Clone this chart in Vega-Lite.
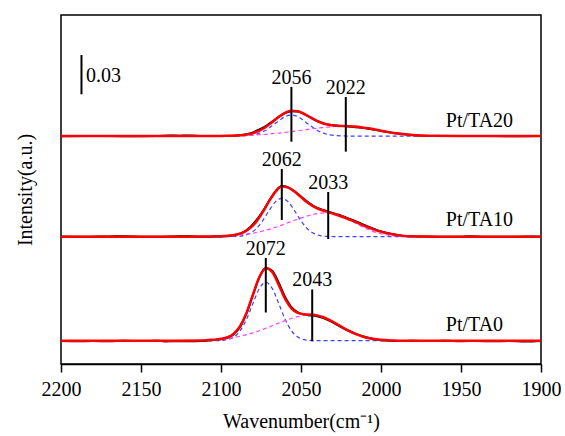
{
  "$schema": "https://vega.github.io/schema/vega-lite/v6.json",
  "width": 480,
  "height": 349,
  "autosize": "none",
  "padding": {"left": 61, "top": 15, "right": 24, "bottom": 72},
  "background": "white",
  "config": {"view": {"stroke": "black", "strokeWidth": 1.5}, "font": "'Liberation Serif', 'Times New Roman', serif"},
  "datasets": {
    "spectra": [
      {"sample":"Pt/TA0","curve":"exp","wavenumber":2200,"intensity":0.0176},{"sample":"Pt/TA0","curve":"exp","wavenumber":2190,"intensity":0.0174},{"sample":"Pt/TA0","curve":"exp","wavenumber":2180,"intensity":0.0175},{"sample":"Pt/TA0","curve":"exp","wavenumber":2170,"intensity":0.0173},{"sample":"Pt/TA0","curve":"exp","wavenumber":2160,"intensity":0.0177},{"sample":"Pt/TA0","curve":"exp","wavenumber":2150,"intensity":0.0175},{"sample":"Pt/TA0","curve":"exp","wavenumber":2140,"intensity":0.0178},{"sample":"Pt/TA0","curve":"exp","wavenumber":2135,"intensity":0.0172},{"sample":"Pt/TA0","curve":"exp","wavenumber":2128,"intensity":0.0174},{"sample":"Pt/TA0","curve":"exp","wavenumber":2120,"intensity":0.0173},{"sample":"Pt/TA0","curve":"exp","wavenumber":2112,"intensity":0.0175},{"sample":"Pt/TA0","curve":"exp","wavenumber":2108,"intensity":0.0180},{"sample":"Pt/TA0","curve":"exp","wavenumber":2104,"intensity":0.0184},{"sample":"Pt/TA0","curve":"exp","wavenumber":2100,"intensity":0.0189},{"sample":"Pt/TA0","curve":"exp","wavenumber":2096,"intensity":0.0200},{"sample":"Pt/TA0","curve":"exp","wavenumber":2092,"intensity":0.0228},{"sample":"Pt/TA0","curve":"exp","wavenumber":2088,"intensity":0.0285},{"sample":"Pt/TA0","curve":"exp","wavenumber":2084,"intensity":0.0388},{"sample":"Pt/TA0","curve":"exp","wavenumber":2080,"intensity":0.0528},{"sample":"Pt/TA0","curve":"exp","wavenumber":2076,"intensity":0.0663},{"sample":"Pt/TA0","curve":"exp","wavenumber":2072,"intensity":0.0732},{"sample":"Pt/TA0","curve":"exp","wavenumber":2068,"intensity":0.0712},{"sample":"Pt/TA0","curve":"exp","wavenumber":2064,"intensity":0.0622},{"sample":"Pt/TA0","curve":"exp","wavenumber":2060,"intensity":0.0513},{"sample":"Pt/TA0","curve":"exp","wavenumber":2056,"intensity":0.0434},{"sample":"Pt/TA0","curve":"exp","wavenumber":2052,"intensity":0.0395},{"sample":"Pt/TA0","curve":"exp","wavenumber":2048,"intensity":0.0377},{"sample":"Pt/TA0","curve":"exp","wavenumber":2044,"intensity":0.0371},{"sample":"Pt/TA0","curve":"exp","wavenumber":2040,"intensity":0.0364},{"sample":"Pt/TA0","curve":"exp","wavenumber":2036,"intensity":0.0350},{"sample":"Pt/TA0","curve":"exp","wavenumber":2032,"intensity":0.0329},{"sample":"Pt/TA0","curve":"exp","wavenumber":2028,"intensity":0.0303},{"sample":"Pt/TA0","curve":"exp","wavenumber":2024,"intensity":0.0276},{"sample":"Pt/TA0","curve":"exp","wavenumber":2020,"intensity":0.0252},{"sample":"Pt/TA0","curve":"exp","wavenumber":2016,"intensity":0.0232},{"sample":"Pt/TA0","curve":"exp","wavenumber":2012,"intensity":0.0214},{"sample":"Pt/TA0","curve":"exp","wavenumber":2008,"intensity":0.0200},{"sample":"Pt/TA0","curve":"exp","wavenumber":2004,"intensity":0.0189},{"sample":"Pt/TA0","curve":"exp","wavenumber":2000,"intensity":0.0182},{"sample":"Pt/TA0","curve":"exp","wavenumber":1996,"intensity":0.0179},{"sample":"Pt/TA0","curve":"exp","wavenumber":1990,"intensity":0.0176},{"sample":"Pt/TA0","curve":"exp","wavenumber":1980,"intensity":0.0177},{"sample":"Pt/TA0","curve":"exp","wavenumber":1970,"intensity":0.0175},{"sample":"Pt/TA0","curve":"exp","wavenumber":1960,"intensity":0.0177},{"sample":"Pt/TA0","curve":"exp","wavenumber":1950,"intensity":0.0174},{"sample":"Pt/TA0","curve":"exp","wavenumber":1940,"intensity":0.0176},{"sample":"Pt/TA0","curve":"exp","wavenumber":1930,"intensity":0.0173},{"sample":"Pt/TA0","curve":"exp","wavenumber":1920,"intensity":0.0175},{"sample":"Pt/TA0","curve":"exp","wavenumber":1910,"intensity":0.0172},{"sample":"Pt/TA0","curve":"exp","wavenumber":1900,"intensity":0.0176},

      {"sample":"Pt/TA0","curve":"peak1","wavenumber":2108,"intensity":0.0178},{"sample":"Pt/TA0","curve":"peak1","wavenumber":2104,"intensity":0.0178},{"sample":"Pt/TA0","curve":"peak1","wavenumber":2100,"intensity":0.0180},{"sample":"Pt/TA0","curve":"peak1","wavenumber":2096,"intensity":0.0186},{"sample":"Pt/TA0","curve":"peak1","wavenumber":2092,"intensity":0.0206},{"sample":"Pt/TA0","curve":"peak1","wavenumber":2088,"intensity":0.0254},{"sample":"Pt/TA0","curve":"peak1","wavenumber":2084,"intensity":0.0343},{"sample":"Pt/TA0","curve":"peak1","wavenumber":2080,"intensity":0.0464},{"sample":"Pt/TA0","curve":"peak1","wavenumber":2076,"intensity":0.0577},{"sample":"Pt/TA0","curve":"peak1","wavenumber":2072,"intensity":0.0624},{"sample":"Pt/TA0","curve":"peak1","wavenumber":2068,"intensity":0.0577},{"sample":"Pt/TA0","curve":"peak1","wavenumber":2064,"intensity":0.0464},{"sample":"Pt/TA0","curve":"peak1","wavenumber":2060,"intensity":0.0343},{"sample":"Pt/TA0","curve":"peak1","wavenumber":2056,"intensity":0.0254},{"sample":"Pt/TA0","curve":"peak1","wavenumber":2052,"intensity":0.0206},{"sample":"Pt/TA0","curve":"peak1","wavenumber":2048,"intensity":0.0186},{"sample":"Pt/TA0","curve":"peak1","wavenumber":2044,"intensity":0.0180},{"sample":"Pt/TA0","curve":"peak1","wavenumber":2040,"intensity":0.0178},{"sample":"Pt/TA0","curve":"peak1","wavenumber":2000,"intensity":0.0178},{"sample":"Pt/TA0","curve":"peak1","wavenumber":1972,"intensity":0.0178},

      {"sample":"Pt/TA0","curve":"peak2","wavenumber":2108,"intensity":0.0183},{"sample":"Pt/TA0","curve":"peak2","wavenumber":2104,"intensity":0.0186},{"sample":"Pt/TA0","curve":"peak2","wavenumber":2100,"intensity":0.0190},{"sample":"Pt/TA0","curve":"peak2","wavenumber":2096,"intensity":0.0195},{"sample":"Pt/TA0","curve":"peak2","wavenumber":2092,"intensity":0.0202},{"sample":"Pt/TA0","curve":"peak2","wavenumber":2088,"intensity":0.0212},{"sample":"Pt/TA0","curve":"peak2","wavenumber":2084,"intensity":0.0224},{"sample":"Pt/TA0","curve":"peak2","wavenumber":2080,"intensity":0.0238},{"sample":"Pt/TA0","curve":"peak2","wavenumber":2076,"intensity":0.0254},{"sample":"Pt/TA0","curve":"peak2","wavenumber":2072,"intensity":0.0273},{"sample":"Pt/TA0","curve":"peak2","wavenumber":2068,"intensity":0.0292},{"sample":"Pt/TA0","curve":"peak2","wavenumber":2064,"intensity":0.0312},{"sample":"Pt/TA0","curve":"peak2","wavenumber":2060,"intensity":0.0331},{"sample":"Pt/TA0","curve":"peak2","wavenumber":2056,"intensity":0.0347},{"sample":"Pt/TA0","curve":"peak2","wavenumber":2052,"intensity":0.0361},{"sample":"Pt/TA0","curve":"peak2","wavenumber":2048,"intensity":0.0370},{"sample":"Pt/TA0","curve":"peak2","wavenumber":2044,"intensity":0.0374},{"sample":"Pt/TA0","curve":"peak2","wavenumber":2040,"intensity":0.0371},{"sample":"Pt/TA0","curve":"peak2","wavenumber":2036,"intensity":0.0357},{"sample":"Pt/TA0","curve":"peak2","wavenumber":2032,"intensity":0.0335},{"sample":"Pt/TA0","curve":"peak2","wavenumber":2028,"intensity":0.0308},{"sample":"Pt/TA0","curve":"peak2","wavenumber":2024,"intensity":0.0279},{"sample":"Pt/TA0","curve":"peak2","wavenumber":2020,"intensity":0.0252},{"sample":"Pt/TA0","curve":"peak2","wavenumber":2016,"intensity":0.0230},{"sample":"Pt/TA0","curve":"peak2","wavenumber":2012,"intensity":0.0212},{"sample":"Pt/TA0","curve":"peak2","wavenumber":2008,"intensity":0.0199},{"sample":"Pt/TA0","curve":"peak2","wavenumber":2004,"intensity":0.0190},{"sample":"Pt/TA0","curve":"peak2","wavenumber":2000,"intensity":0.0185},{"sample":"Pt/TA0","curve":"peak2","wavenumber":1996,"intensity":0.0181},{"sample":"Pt/TA0","curve":"peak2","wavenumber":1992,"intensity":0.0179},{"sample":"Pt/TA0","curve":"peak2","wavenumber":1988,"intensity":0.0178},{"sample":"Pt/TA0","curve":"peak2","wavenumber":1972,"intensity":0.0178},

      {"sample":"Pt/TA0","curve":"fit","wavenumber":2200,"intensity":0.0178},{"sample":"Pt/TA0","curve":"fit","wavenumber":2160,"intensity":0.0178},{"sample":"Pt/TA0","curve":"fit","wavenumber":2130,"intensity":0.0178},{"sample":"Pt/TA0","curve":"fit","wavenumber":2112,"intensity":0.0179},{"sample":"Pt/TA0","curve":"fit","wavenumber":2108,"intensity":0.0183},{"sample":"Pt/TA0","curve":"fit","wavenumber":2104,"intensity":0.0186},{"sample":"Pt/TA0","curve":"fit","wavenumber":2100,"intensity":0.0192},{"sample":"Pt/TA0","curve":"fit","wavenumber":2096,"intensity":0.0204},{"sample":"Pt/TA0","curve":"fit","wavenumber":2092,"intensity":0.0231},{"sample":"Pt/TA0","curve":"fit","wavenumber":2088,"intensity":0.0290},{"sample":"Pt/TA0","curve":"fit","wavenumber":2084,"intensity":0.0392},{"sample":"Pt/TA0","curve":"fit","wavenumber":2080,"intensity":0.0532},{"sample":"Pt/TA0","curve":"fit","wavenumber":2076,"intensity":0.0664},{"sample":"Pt/TA0","curve":"fit","wavenumber":2072,"intensity":0.0731},{"sample":"Pt/TA0","curve":"fit","wavenumber":2068,"intensity":0.0702},{"sample":"Pt/TA0","curve":"fit","wavenumber":2064,"intensity":0.0606},{"sample":"Pt/TA0","curve":"fit","wavenumber":2060,"intensity":0.0499},{"sample":"Pt/TA0","curve":"fit","wavenumber":2056,"intensity":0.0425},{"sample":"Pt/TA0","curve":"fit","wavenumber":2052,"intensity":0.0390},{"sample":"Pt/TA0","curve":"fit","wavenumber":2048,"intensity":0.0379},{"sample":"Pt/TA0","curve":"fit","wavenumber":2044,"intensity":0.0376},{"sample":"Pt/TA0","curve":"fit","wavenumber":2040,"intensity":0.0371},{"sample":"Pt/TA0","curve":"fit","wavenumber":2036,"intensity":0.0357},{"sample":"Pt/TA0","curve":"fit","wavenumber":2032,"intensity":0.0335},{"sample":"Pt/TA0","curve":"fit","wavenumber":2028,"intensity":0.0308},{"sample":"Pt/TA0","curve":"fit","wavenumber":2024,"intensity":0.0279},{"sample":"Pt/TA0","curve":"fit","wavenumber":2020,"intensity":0.0252},{"sample":"Pt/TA0","curve":"fit","wavenumber":2016,"intensity":0.0230},{"sample":"Pt/TA0","curve":"fit","wavenumber":2012,"intensity":0.0212},{"sample":"Pt/TA0","curve":"fit","wavenumber":2008,"intensity":0.0199},{"sample":"Pt/TA0","curve":"fit","wavenumber":2004,"intensity":0.0190},{"sample":"Pt/TA0","curve":"fit","wavenumber":2000,"intensity":0.0185},{"sample":"Pt/TA0","curve":"fit","wavenumber":1996,"intensity":0.0181},{"sample":"Pt/TA0","curve":"fit","wavenumber":1992,"intensity":0.0179},{"sample":"Pt/TA0","curve":"fit","wavenumber":1988,"intensity":0.0178},{"sample":"Pt/TA0","curve":"fit","wavenumber":1960,"intensity":0.0178},{"sample":"Pt/TA0","curve":"fit","wavenumber":1930,"intensity":0.0178},{"sample":"Pt/TA0","curve":"fit","wavenumber":1900,"intensity":0.0178},

      {"sample":"Pt/TA10","curve":"exp","wavenumber":2200,"intensity":0.0973},{"sample":"Pt/TA10","curve":"exp","wavenumber":2185,"intensity":0.0971},{"sample":"Pt/TA10","curve":"exp","wavenumber":2170,"intensity":0.0974},{"sample":"Pt/TA10","curve":"exp","wavenumber":2160,"intensity":0.0975},{"sample":"Pt/TA10","curve":"exp","wavenumber":2150,"intensity":0.0972},{"sample":"Pt/TA10","curve":"exp","wavenumber":2140,"intensity":0.0971},{"sample":"Pt/TA10","curve":"exp","wavenumber":2130,"intensity":0.0973},{"sample":"Pt/TA10","curve":"exp","wavenumber":2120,"intensity":0.0976},{"sample":"Pt/TA10","curve":"exp","wavenumber":2112,"intensity":0.0972},{"sample":"Pt/TA10","curve":"exp","wavenumber":2106,"intensity":0.0972},{"sample":"Pt/TA10","curve":"exp","wavenumber":2102,"intensity":0.0973},{"sample":"Pt/TA10","curve":"exp","wavenumber":2098,"intensity":0.0975},{"sample":"Pt/TA10","curve":"exp","wavenumber":2094,"intensity":0.0979},{"sample":"Pt/TA10","curve":"exp","wavenumber":2090,"intensity":0.0988},{"sample":"Pt/TA10","curve":"exp","wavenumber":2086,"intensity":0.1006},{"sample":"Pt/TA10","curve":"exp","wavenumber":2082,"intensity":0.1042},{"sample":"Pt/TA10","curve":"exp","wavenumber":2078,"intensity":0.1096},{"sample":"Pt/TA10","curve":"exp","wavenumber":2074,"intensity":0.1164},{"sample":"Pt/TA10","curve":"exp","wavenumber":2070,"intensity":0.1244},{"sample":"Pt/TA10","curve":"exp","wavenumber":2066,"intensity":0.1318},{"sample":"Pt/TA10","curve":"exp","wavenumber":2062,"intensity":0.1358},{"sample":"Pt/TA10","curve":"exp","wavenumber":2058,"intensity":0.1348},{"sample":"Pt/TA10","curve":"exp","wavenumber":2054,"intensity":0.1318},{"sample":"Pt/TA10","curve":"exp","wavenumber":2050,"intensity":0.1278},{"sample":"Pt/TA10","curve":"exp","wavenumber":2046,"intensity":0.1238},{"sample":"Pt/TA10","curve":"exp","wavenumber":2042,"intensity":0.1206},{"sample":"Pt/TA10","curve":"exp","wavenumber":2038,"intensity":0.1183},{"sample":"Pt/TA10","curve":"exp","wavenumber":2034,"intensity":0.1167},{"sample":"Pt/TA10","curve":"exp","wavenumber":2030,"intensity":0.1152},{"sample":"Pt/TA10","curve":"exp","wavenumber":2026,"intensity":0.1137},{"sample":"Pt/TA10","curve":"exp","wavenumber":2022,"intensity":0.1119},{"sample":"Pt/TA10","curve":"exp","wavenumber":2018,"intensity":0.1100},{"sample":"Pt/TA10","curve":"exp","wavenumber":2014,"intensity":0.1080},{"sample":"Pt/TA10","curve":"exp","wavenumber":2010,"intensity":0.1059},{"sample":"Pt/TA10","curve":"exp","wavenumber":2006,"intensity":0.1038},{"sample":"Pt/TA10","curve":"exp","wavenumber":2002,"intensity":0.1020},{"sample":"Pt/TA10","curve":"exp","wavenumber":1998,"intensity":0.1006},{"sample":"Pt/TA10","curve":"exp","wavenumber":1994,"intensity":0.0994},{"sample":"Pt/TA10","curve":"exp","wavenumber":1988,"intensity":0.0980},{"sample":"Pt/TA10","curve":"exp","wavenumber":1980,"intensity":0.0973},{"sample":"Pt/TA10","curve":"exp","wavenumber":1970,"intensity":0.0973},{"sample":"Pt/TA10","curve":"exp","wavenumber":1960,"intensity":0.0971},{"sample":"Pt/TA10","curve":"exp","wavenumber":1950,"intensity":0.0972},{"sample":"Pt/TA10","curve":"exp","wavenumber":1945,"intensity":0.0975},{"sample":"Pt/TA10","curve":"exp","wavenumber":1935,"intensity":0.0972},{"sample":"Pt/TA10","curve":"exp","wavenumber":1920,"intensity":0.0971},{"sample":"Pt/TA10","curve":"exp","wavenumber":1910,"intensity":0.0973},{"sample":"Pt/TA10","curve":"exp","wavenumber":1900,"intensity":0.0972},

      {"sample":"Pt/TA10","curve":"peak1","wavenumber":2106,"intensity":0.0972},{"sample":"Pt/TA10","curve":"peak1","wavenumber":2094,"intensity":0.0973},{"sample":"Pt/TA10","curve":"peak1","wavenumber":2090,"intensity":0.0974},{"sample":"Pt/TA10","curve":"peak1","wavenumber":2086,"intensity":0.0980},{"sample":"Pt/TA10","curve":"peak1","wavenumber":2082,"intensity":0.0997},{"sample":"Pt/TA10","curve":"peak1","wavenumber":2078,"intensity":0.1032},{"sample":"Pt/TA10","curve":"peak1","wavenumber":2074,"intensity":0.1093},{"sample":"Pt/TA10","curve":"peak1","wavenumber":2070,"intensity":0.1170},{"sample":"Pt/TA10","curve":"peak1","wavenumber":2066,"intensity":0.1238},{"sample":"Pt/TA10","curve":"peak1","wavenumber":2062,"intensity":0.1265},{"sample":"Pt/TA10","curve":"peak1","wavenumber":2058,"intensity":0.1238},{"sample":"Pt/TA10","curve":"peak1","wavenumber":2054,"intensity":0.1170},{"sample":"Pt/TA10","curve":"peak1","wavenumber":2050,"intensity":0.1093},{"sample":"Pt/TA10","curve":"peak1","wavenumber":2046,"intensity":0.1032},{"sample":"Pt/TA10","curve":"peak1","wavenumber":2042,"intensity":0.0997},{"sample":"Pt/TA10","curve":"peak1","wavenumber":2038,"intensity":0.0980},{"sample":"Pt/TA10","curve":"peak1","wavenumber":2034,"intensity":0.0974},{"sample":"Pt/TA10","curve":"peak1","wavenumber":2030,"intensity":0.0973},{"sample":"Pt/TA10","curve":"peak1","wavenumber":2026,"intensity":0.0972},{"sample":"Pt/TA10","curve":"peak1","wavenumber":1970,"intensity":0.0972},

      {"sample":"Pt/TA10","curve":"peak2","wavenumber":2106,"intensity":0.0974},{"sample":"Pt/TA10","curve":"peak2","wavenumber":2102,"intensity":0.0975},{"sample":"Pt/TA10","curve":"peak2","wavenumber":2098,"intensity":0.0977},{"sample":"Pt/TA10","curve":"peak2","wavenumber":2094,"intensity":0.0979},{"sample":"Pt/TA10","curve":"peak2","wavenumber":2090,"intensity":0.0983},{"sample":"Pt/TA10","curve":"peak2","wavenumber":2086,"intensity":0.0988},{"sample":"Pt/TA10","curve":"peak2","wavenumber":2082,"intensity":0.0995},{"sample":"Pt/TA10","curve":"peak2","wavenumber":2078,"intensity":0.1004},{"sample":"Pt/TA10","curve":"peak2","wavenumber":2074,"intensity":0.1015},{"sample":"Pt/TA10","curve":"peak2","wavenumber":2070,"intensity":0.1028},{"sample":"Pt/TA10","curve":"peak2","wavenumber":2066,"intensity":0.1043},{"sample":"Pt/TA10","curve":"peak2","wavenumber":2062,"intensity":0.1060},{"sample":"Pt/TA10","curve":"peak2","wavenumber":2058,"intensity":0.1079},{"sample":"Pt/TA10","curve":"peak2","wavenumber":2054,"intensity":0.1097},{"sample":"Pt/TA10","curve":"peak2","wavenumber":2050,"intensity":0.1115},{"sample":"Pt/TA10","curve":"peak2","wavenumber":2046,"intensity":0.1130},{"sample":"Pt/TA10","curve":"peak2","wavenumber":2042,"intensity":0.1143},{"sample":"Pt/TA10","curve":"peak2","wavenumber":2038,"intensity":0.1151},{"sample":"Pt/TA10","curve":"peak2","wavenumber":2034,"intensity":0.1155},{"sample":"Pt/TA10","curve":"peak2","wavenumber":2030,"intensity":0.1152},{"sample":"Pt/TA10","curve":"peak2","wavenumber":2026,"intensity":0.1139},{"sample":"Pt/TA10","curve":"peak2","wavenumber":2022,"intensity":0.1117},{"sample":"Pt/TA10","curve":"peak2","wavenumber":2018,"intensity":0.1090},{"sample":"Pt/TA10","curve":"peak2","wavenumber":2014,"intensity":0.1063},{"sample":"Pt/TA10","curve":"peak2","wavenumber":2010,"intensity":0.1037},{"sample":"Pt/TA10","curve":"peak2","wavenumber":2006,"intensity":0.1016},{"sample":"Pt/TA10","curve":"peak2","wavenumber":2002,"intensity":0.1000},{"sample":"Pt/TA10","curve":"peak2","wavenumber":1998,"intensity":0.0989},{"sample":"Pt/TA10","curve":"peak2","wavenumber":1994,"intensity":0.0981},{"sample":"Pt/TA10","curve":"peak2","wavenumber":1990,"intensity":0.0977},{"sample":"Pt/TA10","curve":"peak2","wavenumber":1986,"intensity":0.0974},{"sample":"Pt/TA10","curve":"peak2","wavenumber":1982,"intensity":0.0973},{"sample":"Pt/TA10","curve":"peak2","wavenumber":1978,"intensity":0.0972},{"sample":"Pt/TA10","curve":"peak2","wavenumber":1970,"intensity":0.0972},

      {"sample":"Pt/TA10","curve":"fit","wavenumber":2200,"intensity":0.0972},{"sample":"Pt/TA10","curve":"fit","wavenumber":2150,"intensity":0.0972},{"sample":"Pt/TA10","curve":"fit","wavenumber":2120,"intensity":0.0972},{"sample":"Pt/TA10","curve":"fit","wavenumber":2110,"intensity":0.0973},{"sample":"Pt/TA10","curve":"fit","wavenumber":2106,"intensity":0.0974},{"sample":"Pt/TA10","curve":"fit","wavenumber":2102,"intensity":0.0975},{"sample":"Pt/TA10","curve":"fit","wavenumber":2098,"intensity":0.0977},{"sample":"Pt/TA10","curve":"fit","wavenumber":2094,"intensity":0.0981},{"sample":"Pt/TA10","curve":"fit","wavenumber":2090,"intensity":0.0989},{"sample":"Pt/TA10","curve":"fit","wavenumber":2086,"intensity":0.1004},{"sample":"Pt/TA10","curve":"fit","wavenumber":2082,"intensity":0.1035},{"sample":"Pt/TA10","curve":"fit","wavenumber":2078,"intensity":0.1085},{"sample":"Pt/TA10","curve":"fit","wavenumber":2074,"intensity":0.1157},{"sample":"Pt/TA10","curve":"fit","wavenumber":2070,"intensity":0.1241},{"sample":"Pt/TA10","curve":"fit","wavenumber":2066,"intensity":0.1314},{"sample":"Pt/TA10","curve":"fit","wavenumber":2062,"intensity":0.1354},{"sample":"Pt/TA10","curve":"fit","wavenumber":2058,"intensity":0.1346},{"sample":"Pt/TA10","curve":"fit","wavenumber":2054,"intensity":0.1316},{"sample":"Pt/TA10","curve":"fit","wavenumber":2050,"intensity":0.1274},{"sample":"Pt/TA10","curve":"fit","wavenumber":2046,"intensity":0.1232},{"sample":"Pt/TA10","curve":"fit","wavenumber":2042,"intensity":0.1201},{"sample":"Pt/TA10","curve":"fit","wavenumber":2038,"intensity":0.1178},{"sample":"Pt/TA10","curve":"fit","wavenumber":2034,"intensity":0.1163},{"sample":"Pt/TA10","curve":"fit","wavenumber":2030,"intensity":0.1148},{"sample":"Pt/TA10","curve":"fit","wavenumber":2026,"intensity":0.1132},{"sample":"Pt/TA10","curve":"fit","wavenumber":2022,"intensity":0.1113},{"sample":"Pt/TA10","curve":"fit","wavenumber":2018,"intensity":0.1094},{"sample":"Pt/TA10","curve":"fit","wavenumber":2014,"intensity":0.1074},{"sample":"Pt/TA10","curve":"fit","wavenumber":2010,"intensity":0.1053},{"sample":"Pt/TA10","curve":"fit","wavenumber":2006,"intensity":0.1033},{"sample":"Pt/TA10","curve":"fit","wavenumber":2002,"intensity":0.1016},{"sample":"Pt/TA10","curve":"fit","wavenumber":1998,"intensity":0.1003},{"sample":"Pt/TA10","curve":"fit","wavenumber":1994,"intensity":0.0992},{"sample":"Pt/TA10","curve":"fit","wavenumber":1990,"intensity":0.0984},{"sample":"Pt/TA10","curve":"fit","wavenumber":1986,"intensity":0.0978},{"sample":"Pt/TA10","curve":"fit","wavenumber":1982,"intensity":0.0975},{"sample":"Pt/TA10","curve":"fit","wavenumber":1978,"intensity":0.0974},{"sample":"Pt/TA10","curve":"fit","wavenumber":1970,"intensity":0.0972},{"sample":"Pt/TA10","curve":"fit","wavenumber":1950,"intensity":0.0972},{"sample":"Pt/TA10","curve":"fit","wavenumber":1900,"intensity":0.0972},

      {"sample":"Pt/TA20","curve":"exp","wavenumber":2200,"intensity":0.1739},{"sample":"Pt/TA20","curve":"exp","wavenumber":2180,"intensity":0.1741},{"sample":"Pt/TA20","curve":"exp","wavenumber":2160,"intensity":0.1739},{"sample":"Pt/TA20","curve":"exp","wavenumber":2140,"intensity":0.1740},{"sample":"Pt/TA20","curve":"exp","wavenumber":2132,"intensity":0.1744},{"sample":"Pt/TA20","curve":"exp","wavenumber":2126,"intensity":0.1743},{"sample":"Pt/TA20","curve":"exp","wavenumber":2120,"intensity":0.1745},{"sample":"Pt/TA20","curve":"exp","wavenumber":2112,"intensity":0.1741},{"sample":"Pt/TA20","curve":"exp","wavenumber":2104,"intensity":0.1740},{"sample":"Pt/TA20","curve":"exp","wavenumber":2100,"intensity":0.1741},{"sample":"Pt/TA20","curve":"exp","wavenumber":2096,"intensity":0.1741},{"sample":"Pt/TA20","curve":"exp","wavenumber":2092,"intensity":0.1742},{"sample":"Pt/TA20","curve":"exp","wavenumber":2088,"intensity":0.1746},{"sample":"Pt/TA20","curve":"exp","wavenumber":2084,"intensity":0.1754},{"sample":"Pt/TA20","curve":"exp","wavenumber":2080,"intensity":0.1768},{"sample":"Pt/TA20","curve":"exp","wavenumber":2076,"intensity":0.1790},{"sample":"Pt/TA20","curve":"exp","wavenumber":2072,"intensity":0.1816},{"sample":"Pt/TA20","curve":"exp","wavenumber":2068,"intensity":0.1850},{"sample":"Pt/TA20","curve":"exp","wavenumber":2064,"intensity":0.1886},{"sample":"Pt/TA20","curve":"exp","wavenumber":2060,"intensity":0.1915},{"sample":"Pt/TA20","curve":"exp","wavenumber":2056,"intensity":0.1930},{"sample":"Pt/TA20","curve":"exp","wavenumber":2052,"intensity":0.1927},{"sample":"Pt/TA20","curve":"exp","wavenumber":2048,"intensity":0.1907},{"sample":"Pt/TA20","curve":"exp","wavenumber":2044,"intensity":0.1880},{"sample":"Pt/TA20","curve":"exp","wavenumber":2040,"intensity":0.1855},{"sample":"Pt/TA20","curve":"exp","wavenumber":2036,"intensity":0.1837},{"sample":"Pt/TA20","curve":"exp","wavenumber":2032,"intensity":0.1826},{"sample":"Pt/TA20","curve":"exp","wavenumber":2028,"intensity":0.1820},{"sample":"Pt/TA20","curve":"exp","wavenumber":2024,"intensity":0.1816},{"sample":"Pt/TA20","curve":"exp","wavenumber":2020,"intensity":0.1812},{"sample":"Pt/TA20","curve":"exp","wavenumber":2016,"intensity":0.1808},{"sample":"Pt/TA20","curve":"exp","wavenumber":2012,"intensity":0.1803},{"sample":"Pt/TA20","curve":"exp","wavenumber":2008,"intensity":0.1796},{"sample":"Pt/TA20","curve":"exp","wavenumber":2004,"intensity":0.1788},{"sample":"Pt/TA20","curve":"exp","wavenumber":2000,"intensity":0.1779},{"sample":"Pt/TA20","curve":"exp","wavenumber":1996,"intensity":0.1771},{"sample":"Pt/TA20","curve":"exp","wavenumber":1992,"intensity":0.1763},{"sample":"Pt/TA20","curve":"exp","wavenumber":1988,"intensity":0.1757},{"sample":"Pt/TA20","curve":"exp","wavenumber":1984,"intensity":0.1751},{"sample":"Pt/TA20","curve":"exp","wavenumber":1980,"intensity":0.1747},{"sample":"Pt/TA20","curve":"exp","wavenumber":1976,"intensity":0.1744},{"sample":"Pt/TA20","curve":"exp","wavenumber":1970,"intensity":0.1741},{"sample":"Pt/TA20","curve":"exp","wavenumber":1960,"intensity":0.1740},{"sample":"Pt/TA20","curve":"exp","wavenumber":1940,"intensity":0.1741},{"sample":"Pt/TA20","curve":"exp","wavenumber":1920,"intensity":0.1739},{"sample":"Pt/TA20","curve":"exp","wavenumber":1900,"intensity":0.1740},

      {"sample":"Pt/TA20","curve":"peak1","wavenumber":2104,"intensity":0.1740},{"sample":"Pt/TA20","curve":"peak1","wavenumber":2092,"intensity":0.1740},{"sample":"Pt/TA20","curve":"peak1","wavenumber":2088,"intensity":0.1741},{"sample":"Pt/TA20","curve":"peak1","wavenumber":2084,"intensity":0.1743},{"sample":"Pt/TA20","curve":"peak1","wavenumber":2080,"intensity":0.1749},{"sample":"Pt/TA20","curve":"peak1","wavenumber":2076,"intensity":0.1762},{"sample":"Pt/TA20","curve":"peak1","wavenumber":2072,"intensity":0.1785},{"sample":"Pt/TA20","curve":"peak1","wavenumber":2068,"intensity":0.1818},{"sample":"Pt/TA20","curve":"peak1","wavenumber":2064,"intensity":0.1856},{"sample":"Pt/TA20","curve":"peak1","wavenumber":2060,"intensity":0.1888},{"sample":"Pt/TA20","curve":"peak1","wavenumber":2056,"intensity":0.1900},{"sample":"Pt/TA20","curve":"peak1","wavenumber":2052,"intensity":0.1888},{"sample":"Pt/TA20","curve":"peak1","wavenumber":2048,"intensity":0.1856},{"sample":"Pt/TA20","curve":"peak1","wavenumber":2044,"intensity":0.1818},{"sample":"Pt/TA20","curve":"peak1","wavenumber":2040,"intensity":0.1785},{"sample":"Pt/TA20","curve":"peak1","wavenumber":2036,"intensity":0.1762},{"sample":"Pt/TA20","curve":"peak1","wavenumber":2032,"intensity":0.1749},{"sample":"Pt/TA20","curve":"peak1","wavenumber":2028,"intensity":0.1743},{"sample":"Pt/TA20","curve":"peak1","wavenumber":2024,"intensity":0.1741},{"sample":"Pt/TA20","curve":"peak1","wavenumber":2020,"intensity":0.1740},{"sample":"Pt/TA20","curve":"peak1","wavenumber":1968,"intensity":0.1740},

      {"sample":"Pt/TA20","curve":"peak2","wavenumber":2104,"intensity":0.1741},{"sample":"Pt/TA20","curve":"peak2","wavenumber":2100,"intensity":0.1741},{"sample":"Pt/TA20","curve":"peak2","wavenumber":2096,"intensity":0.1742},{"sample":"Pt/TA20","curve":"peak2","wavenumber":2092,"intensity":0.1743},{"sample":"Pt/TA20","curve":"peak2","wavenumber":2088,"intensity":0.1744},{"sample":"Pt/TA20","curve":"peak2","wavenumber":2084,"intensity":0.1745},{"sample":"Pt/TA20","curve":"peak2","wavenumber":2080,"intensity":0.1747},{"sample":"Pt/TA20","curve":"peak2","wavenumber":2076,"intensity":0.1750},{"sample":"Pt/TA20","curve":"peak2","wavenumber":2072,"intensity":0.1753},{"sample":"Pt/TA20","curve":"peak2","wavenumber":2068,"intensity":0.1758},{"sample":"Pt/TA20","curve":"peak2","wavenumber":2064,"intensity":0.1762},{"sample":"Pt/TA20","curve":"peak2","wavenumber":2060,"intensity":0.1768},{"sample":"Pt/TA20","curve":"peak2","wavenumber":2056,"intensity":0.1774},{"sample":"Pt/TA20","curve":"peak2","wavenumber":2052,"intensity":0.1780},{"sample":"Pt/TA20","curve":"peak2","wavenumber":2048,"intensity":0.1787},{"sample":"Pt/TA20","curve":"peak2","wavenumber":2044,"intensity":0.1794},{"sample":"Pt/TA20","curve":"peak2","wavenumber":2040,"intensity":0.1800},{"sample":"Pt/TA20","curve":"peak2","wavenumber":2036,"intensity":0.1805},{"sample":"Pt/TA20","curve":"peak2","wavenumber":2032,"intensity":0.1810},{"sample":"Pt/TA20","curve":"peak2","wavenumber":2028,"intensity":0.1813},{"sample":"Pt/TA20","curve":"peak2","wavenumber":2024,"intensity":0.1815},{"sample":"Pt/TA20","curve":"peak2","wavenumber":2020,"intensity":0.1814},{"sample":"Pt/TA20","curve":"peak2","wavenumber":2016,"intensity":0.1812},{"sample":"Pt/TA20","curve":"peak2","wavenumber":2012,"intensity":0.1806},{"sample":"Pt/TA20","curve":"peak2","wavenumber":2008,"intensity":0.1799},{"sample":"Pt/TA20","curve":"peak2","wavenumber":2004,"intensity":0.1790},{"sample":"Pt/TA20","curve":"peak2","wavenumber":2000,"intensity":0.1781},{"sample":"Pt/TA20","curve":"peak2","wavenumber":1996,"intensity":0.1772},{"sample":"Pt/TA20","curve":"peak2","wavenumber":1992,"intensity":0.1764},{"sample":"Pt/TA20","curve":"peak2","wavenumber":1988,"intensity":0.1758},{"sample":"Pt/TA20","curve":"peak2","wavenumber":1984,"intensity":0.1752},{"sample":"Pt/TA20","curve":"peak2","wavenumber":1980,"intensity":0.1748},{"sample":"Pt/TA20","curve":"peak2","wavenumber":1976,"intensity":0.1745},{"sample":"Pt/TA20","curve":"peak2","wavenumber":1972,"intensity":0.1743},{"sample":"Pt/TA20","curve":"peak2","wavenumber":1968,"intensity":0.1742},

      {"sample":"Pt/TA20","curve":"fit","wavenumber":2200,"intensity":0.1740},{"sample":"Pt/TA20","curve":"fit","wavenumber":2150,"intensity":0.1740},{"sample":"Pt/TA20","curve":"fit","wavenumber":2110,"intensity":0.1740},{"sample":"Pt/TA20","curve":"fit","wavenumber":2104,"intensity":0.1741},{"sample":"Pt/TA20","curve":"fit","wavenumber":2100,"intensity":0.1741},{"sample":"Pt/TA20","curve":"fit","wavenumber":2096,"intensity":0.1742},{"sample":"Pt/TA20","curve":"fit","wavenumber":2092,"intensity":0.1743},{"sample":"Pt/TA20","curve":"fit","wavenumber":2088,"intensity":0.1746},{"sample":"Pt/TA20","curve":"fit","wavenumber":2084,"intensity":0.1752},{"sample":"Pt/TA20","curve":"fit","wavenumber":2080,"intensity":0.1762},{"sample":"Pt/TA20","curve":"fit","wavenumber":2076,"intensity":0.1781},{"sample":"Pt/TA20","curve":"fit","wavenumber":2072,"intensity":0.1809},{"sample":"Pt/TA20","curve":"fit","wavenumber":2068,"intensity":0.1846},{"sample":"Pt/TA20","curve":"fit","wavenumber":2064,"intensity":0.1885},{"sample":"Pt/TA20","curve":"fit","wavenumber":2060,"intensity":0.1917},{"sample":"Pt/TA20","curve":"fit","wavenumber":2056,"intensity":0.1933},{"sample":"Pt/TA20","curve":"fit","wavenumber":2052,"intensity":0.1930},{"sample":"Pt/TA20","curve":"fit","wavenumber":2048,"intensity":0.1909},{"sample":"Pt/TA20","curve":"fit","wavenumber":2044,"intensity":0.1882},{"sample":"Pt/TA20","curve":"fit","wavenumber":2040,"intensity":0.1855},{"sample":"Pt/TA20","curve":"fit","wavenumber":2036,"intensity":0.1836},{"sample":"Pt/TA20","curve":"fit","wavenumber":2032,"intensity":0.1825},{"sample":"Pt/TA20","curve":"fit","wavenumber":2028,"intensity":0.1819},{"sample":"Pt/TA20","curve":"fit","wavenumber":2024,"intensity":0.1817},{"sample":"Pt/TA20","curve":"fit","wavenumber":2020,"intensity":0.1815},{"sample":"Pt/TA20","curve":"fit","wavenumber":2016,"intensity":0.1812},{"sample":"Pt/TA20","curve":"fit","wavenumber":2012,"intensity":0.1806},{"sample":"Pt/TA20","curve":"fit","wavenumber":2008,"intensity":0.1799},{"sample":"Pt/TA20","curve":"fit","wavenumber":2004,"intensity":0.1790},{"sample":"Pt/TA20","curve":"fit","wavenumber":2000,"intensity":0.1781},{"sample":"Pt/TA20","curve":"fit","wavenumber":1996,"intensity":0.1772},{"sample":"Pt/TA20","curve":"fit","wavenumber":1992,"intensity":0.1764},{"sample":"Pt/TA20","curve":"fit","wavenumber":1988,"intensity":0.1758},{"sample":"Pt/TA20","curve":"fit","wavenumber":1984,"intensity":0.1752},{"sample":"Pt/TA20","curve":"fit","wavenumber":1980,"intensity":0.1748},{"sample":"Pt/TA20","curve":"fit","wavenumber":1976,"intensity":0.1745},{"sample":"Pt/TA20","curve":"fit","wavenumber":1972,"intensity":0.1743},{"sample":"Pt/TA20","curve":"fit","wavenumber":1968,"intensity":0.1742},{"sample":"Pt/TA20","curve":"fit","wavenumber":1950,"intensity":0.1740},{"sample":"Pt/TA20","curve":"fit","wavenumber":1900,"intensity":0.1740}
    ],
    "markers": [
      {"wavenumber": 2056, "intensity": 0.1697, "intensity2": 0.2115},
      {"wavenumber": 2022, "intensity": 0.1621, "intensity2": 0.2038},
      {"wavenumber": 2062, "intensity": 0.1099, "intensity2": 0.1489},
      {"wavenumber": 2033, "intensity": 0.0954, "intensity2": 0.1313},
      {"wavenumber": 2072, "intensity": 0.0393, "intensity2": 0.0809},
      {"wavenumber": 2043, "intensity": 0.0173, "intensity2": 0.0569},
      {"wavenumber": 2187.2, "intensity": 0.2059, "intensity2": 0.2359}
    ],
    "peakLabels": [
      {"label": "2056", "wavenumber": 2056, "intensity": 0.2115},
      {"label": "2022", "wavenumber": 2022, "intensity": 0.2038},
      {"label": "2062", "wavenumber": 2062, "intensity": 0.1489},
      {"label": "2033", "wavenumber": 2033, "intensity": 0.1313},
      {"label": "2072", "wavenumber": 2072, "intensity": 0.0809},
      {"label": "2043", "wavenumber": 2043, "intensity": 0.0569}
    ],
    "notes": [
      {"label": "Pt/TA20", "wavenumber": 1959.5, "intensity": 0.1812},
      {"label": "Pt/TA10", "wavenumber": 1959.5, "intensity": 0.1053},
      {"label": "Pt/TA0", "wavenumber": 1959.5, "intensity": 0.0252},
      {"label": "0.03", "wavenumber": 2184.4, "intensity": 0.2155}
    ]
  },
  "encoding": {
    "x": {
      "field": "wavenumber", "type": "quantitative",
      "scale": {"domain": [1900, 2200], "reverse": true, "nice": false, "zero": false},
      "axis": {
        "values": [2200, 2150, 2100, 2050, 2000, 1950, 1900], "format": "d",
        "labelFont": "'Liberation Serif', 'Times New Roman', serif", "labelFontSize": 20, "labelColor": "black", "labelPadding": 7,
        "labelFlush": false, "labelOverlap": false,
        "tickSize": 8, "tickColor": "black", "tickWidth": 1.5,
        "domainColor": "black", "domainWidth": 1.5, "grid": false,
        "title": "Wavenumber(cm⁻¹)", "titleFont": "'Liberation Serif', 'Times New Roman', serif", "titleFontSize": 20,
        "titleFontWeight": "normal", "titleColor": "black",
        "titleX": 240, "titleY": 63, "titleBaseline": "alphabetic", "titleAlign": "center"
      }
    },
    "y": {
      "field": "intensity", "type": "quantitative",
      "scale": {"domain": [0, 0.2664], "nice": false, "zero": false},
      "axis": {
        "labels": false, "ticks": false, "domain": false, "grid": false,
        "title": "Intensity(a.u.)", "titleFont": "'Liberation Serif', 'Times New Roman', serif", "titleFontSize": 20,
        "titleFontWeight": "normal", "titleColor": "black",
        "titleX": -30, "titleY": 174.5, "titleAngle": 270, "titleBaseline": "alphabetic", "titleAlign": "center"
      }
    }
  },
  "layer": [
    {
      "data": {"name": "spectra"},
      "transform": [{"filter": "datum.curve === 'exp'"}],
      "mark": {"type": "line", "color": "black", "strokeWidth": 2, "interpolate": "monotone"},
      "encoding": {"detail": {"field": "sample"}}
    },
    {
      "data": {"name": "spectra"},
      "transform": [{"filter": "datum.curve === 'peak1'"}],
      "mark": {"type": "line", "color": "#3f3fff", "strokeWidth": 1.2, "strokeDash": [4, 3], "interpolate": "monotone"},
      "encoding": {"detail": {"field": "sample"}}
    },
    {
      "data": {"name": "spectra"},
      "transform": [{"filter": "datum.curve === 'peak2'"}],
      "mark": {"type": "line", "color": "#ff3fff", "strokeWidth": 1.2, "strokeDash": [4, 3], "interpolate": "monotone"},
      "encoding": {"detail": {"field": "sample"}}
    },
    {
      "data": {"name": "spectra"},
      "transform": [{"filter": "datum.curve === 'fit'"}],
      "mark": {"type": "line", "color": "#ff0000", "strokeWidth": 2.5, "interpolate": "monotone"},
      "encoding": {"detail": {"field": "sample"}}
    },
    {
      "data": {"name": "markers"},
      "mark": {"type": "rule", "color": "black", "strokeWidth": 2},
      "encoding": {"y2": {"field": "intensity2"}}
    },
    {
      "data": {"name": "peakLabels"},
      "mark": {"type": "text", "font": "'Liberation Serif', 'Times New Roman', serif", "fontSize": 20, "color": "black", "align": "center", "baseline": "alphabetic", "dy": -3},
      "encoding": {"text": {"field": "label"}}
    },
    {
      "data": {"name": "notes"},
      "mark": {"type": "text", "font": "'Liberation Serif', 'Times New Roman', serif", "fontSize": 20, "color": "black", "align": "left", "baseline": "alphabetic"},
      "encoding": {"text": {"field": "label"}}
    }
  ]
}
